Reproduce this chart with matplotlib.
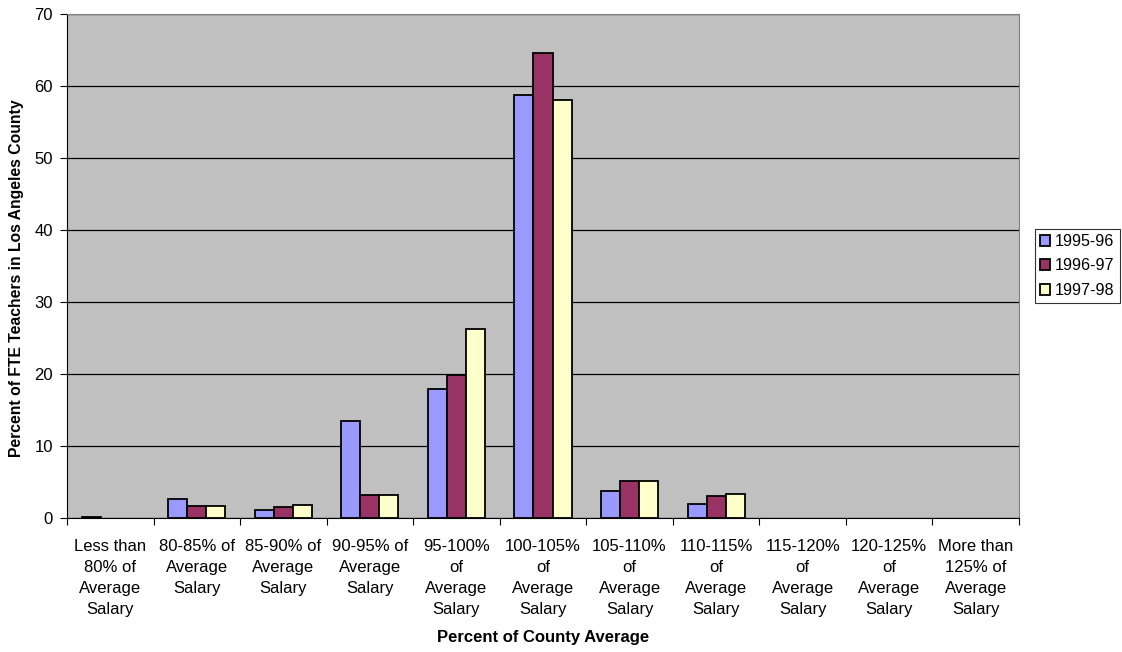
import matplotlib.pyplot as plt
import numpy as np

plt.rcParams['font.family'] = ['Liberation Sans', 'DejaVu Sans']

categories = ['Less than\n80% of\nAverage\nSalary', '80-85% of\nAverage\nSalary',
              '85-90% of\nAverage\nSalary', '90-95% of\nAverage\nSalary',
              '95-100%\nof\nAverage\nSalary', '100-105%\nof\nAverage\nSalary',
              '105-110%\nof\nAverage\nSalary', '110-115%\nof\nAverage\nSalary',
              '115-120%\nof\nAverage\nSalary', '120-125%\nof\nAverage\nSalary',
              'More than\n125% of\nAverage\nSalary']
years = ['1995-96', '1996-97', '1997-98']
y1995 = [0.1, 2.7, 1.1, 13.5, 17.9, 58.7, 3.8, 1.9, 0, 0, 0]
y1996 = [0, 1.7, 1.5, 3.2, 19.9, 64.6, 5.2, 3.1, 0, 0, 0]
y1997 = [0, 1.6, 1.8, 3.2, 26.2, 58.1, 5.1, 3.4, 0, 0, 0]
colors = ['#9999FF', '#993366', '#FFFFCC']

fig = plt.figure(figsize=(11.22, 6.52), dpi=100)
ax = fig.add_axes([67 / 1122, 1 - 518 / 652, (1019 - 67) / 1122, (518 - 14) / 652])
ax.set_facecolor('#C0C0C0')

x = np.arange(len(categories))
w = 0.22
for i, (vals, lab) in enumerate(zip([y1995, y1996, y1997], years)):
    vals = np.array(vals, dtype=float)
    nz = vals > 0  # Excel leaves empty bars out
    ax.bar(x[nz] + (i - 1) * w, vals[nz], w, color=colors[i], edgecolor='black',
           linewidth=1.3, label=lab, zorder=3)

ax.set_xlim(-0.5, len(categories) - 0.5)
ax.set_ylim(0, 70)
ax.set_yticks(range(0, 71, 10))
ax.yaxis.grid(True, color='black', linewidth=0.9, zorder=1)
ax.tick_params(axis='y', labelsize=12, length=5, direction='out', width=0.8, pad=5)

ax.set_xticks(x)
ax.set_xticklabels(categories, fontsize=12, linespacing=1.51, va='top')
ax.set_xticks(np.arange(-0.5, len(categories), 1), minor=True)
ax.tick_params(axis='x', which='major', length=0, pad=15)
ax.tick_params(axis='x', which='minor', length=5, width=0.8)

for s in ['top', 'right']:
    ax.spines[s].set_color('#808080')
for s in ['left', 'bottom']:
    ax.spines[s].set_color('black')

ax.set_xlabel('Percent of County Average', fontsize=12, fontweight='bold', labelpad=9)
ax.set_ylabel('Percent of FTE Teachers in Los Angeles County', fontsize=11.3,
              fontweight='bold')
ax.yaxis.set_label_coords(-0.045, 0.476)

leg = ax.legend(loc='center left', bbox_to_anchor=(1035 / 1122, 1 - 266 / 652),
                bbox_transform=fig.transFigure, fontsize=11.6, frameon=True,
                fancybox=False, edgecolor='black', handlelength=0.65,
                handleheight=0.65, handletextpad=0.3, borderpad=0.3,
                labelspacing=0.6, borderaxespad=0)
leg.get_frame().set_linewidth(0.8)

fig.savefig('out.png', dpi=100)
